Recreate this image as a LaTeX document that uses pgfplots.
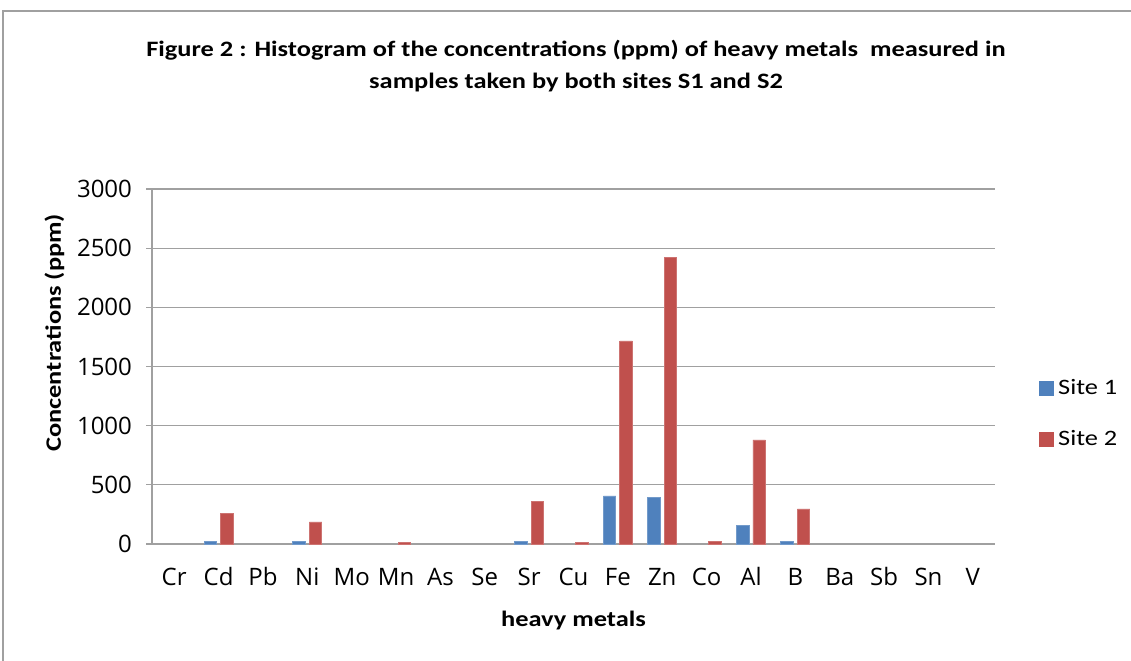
\documentclass[border=0pt]{standalone}
\usepackage{pgfplots}
\pgfplotsset{compat=1.18}
\usepackage{fontspec}
\setmainfont{Carlito}[FakeStretch=1.2]
\newfontfamily\tickfont{Open Sans}
\definecolor{sone}{HTML}{4F81BD}
\definecolor{stwo}{HTML}{C0504D}
\definecolor{gridc}{HTML}{A0A0A0}
\begin{document}
\begin{tikzpicture}
\path[use as bounding box] (0,0) rectangle (565.5pt,330pt);
\draw[gridc, line width=1pt] (1.5pt,-2pt) -- (1.5pt,324.5pt) -- (570pt,324.5pt);
\node[font=\bfseries\fontsize{11}{16}\selectfont, align=center] at (288pt,297pt)
  {Figure 2 : Histogram of the concentrations (ppm) of heavy metals~ measured in\\ samples taken by both sites S1 and S2};
\begin{axis}[
  at={(76pt,58pt)}, anchor=south west,
  scale only axis, width=421.5pt, height=177.5pt,
  ybar, bar width=6.25pt,
  xmin=-0.5, xmax=18.5, ymin=0, ymax=3000,
  xtick={0,...,18},
  xticklabels={Cr,Cd,Pb,Ni,Mo,Mn,As,Se,Sr,Cu,Fe,Zn,Co,Al,B,Ba,Sb,Sn,V},
  ytick={0,500,...,3000},
  /pgf/number format/assume math mode=true,
  yticklabel style={/pgf/number format/1000 sep={}},
  ymajorgrids, grid style={gridc, line width=0.6pt},
  axis x line*=bottom, axis y line*=left,
  axis line style={gridc, line width=0.8pt},
  x axis line style={-}, y axis line style={-},
  major x tick style={draw=none},
  major y tick style={gridc, line width=0.6pt},
  tick align=outside, major tick length=3pt,
  ticklabel style={font=\tickfont\fontsize{12}{14}\selectfont},
  xticklabel style={yshift=-5pt, text height=9pt, text depth=2pt},
  yticklabel style={xshift=-3.5pt},
  xlabel={\bfseries heavy metals},
  ylabel={\bfseries Concentrations (ppm)},
  label style={font=\bfseries\fontsize{11}{13}\selectfont},
  xlabel style={yshift=-4pt},
  ylabel style={at={(ticklabel cs:0.595)}, yshift=-0.5pt},
  legend style={at={(1.045,0.366)}, anchor=west, draw=none, fill=none,
    font=\fontsize{11}{13}\selectfont, row sep=12.5pt},
  legend cell align=left,
]
\addplot[fill=sone, draw=sone!80!white,
  legend image code/.code={\fill[sone] (0pt,-3.5pt) rectangle (7pt,3.5pt);}] coordinates {
(1,25) (3,25) (8,25)
(10,406) (11,391) (13,155) (14,22)};
\addplot[fill=stwo, draw=stwo!80!white,
  legend image code/.code={\fill[stwo] (0pt,-3.5pt) rectangle (7pt,3.5pt);}] coordinates {
(1,262) (3,186) (5,12) (8,360) (9,12)
(10,1716) (11,2425) (12,22) (13,879) (14,296)};
\legend{Site 1, Site 2}
\end{axis}
\end{tikzpicture}
\end{document}
